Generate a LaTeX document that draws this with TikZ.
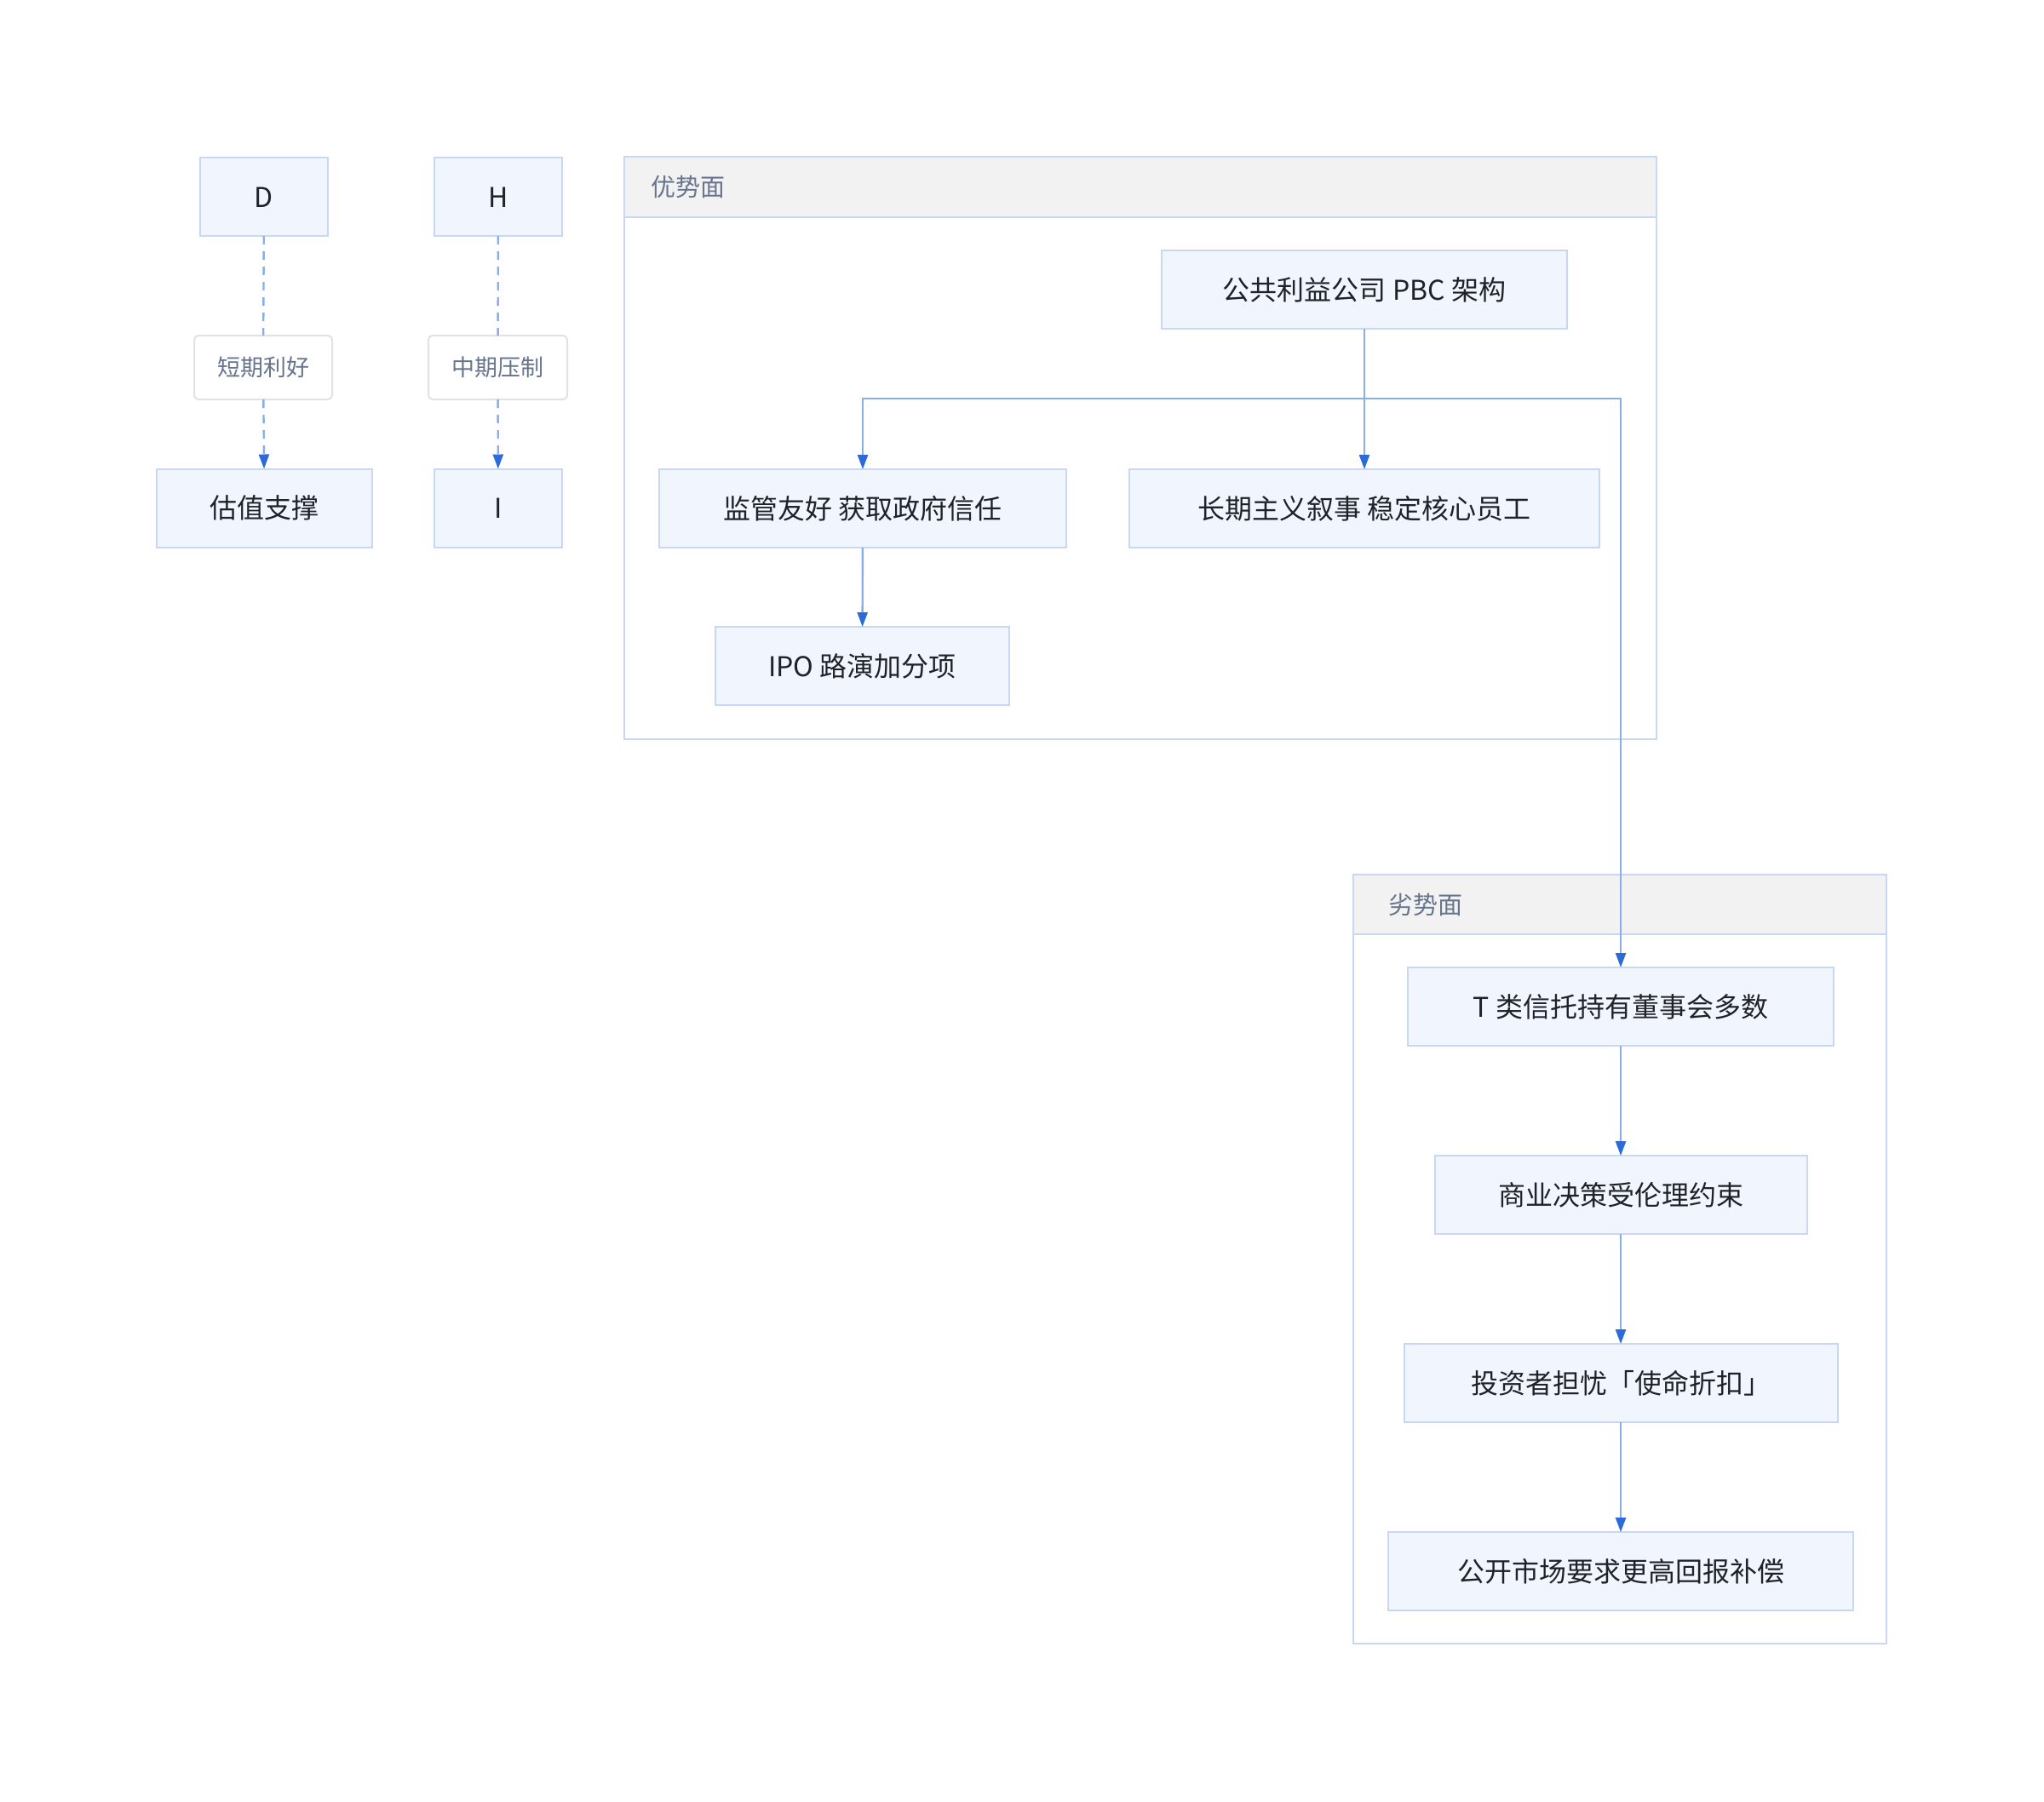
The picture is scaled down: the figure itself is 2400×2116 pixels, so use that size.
\documentclass[tikz,border=0pt]{standalone}
\usepackage{fontspec}
\setmainfont{Noto Sans CJK SC}
\usetikzlibrary{
    arrows.meta,
    positioning
}
\definecolor{boxfill}{RGB}{240,245,254}
\definecolor{boxline}{RGB}{200,215,242}
\definecolor{edgeline}{RGB}{138,173,236}
\definecolor{edgehead}{RGB}{45,106,217}
\definecolor{headfill}{RGB}{242,242,242}
\definecolor{maintext}{RGB}{31,35,41}
\definecolor{softtext}{RGB}{103,117,140}
\definecolor{labelline}{RGB}{226,226,226}
\tikzset {
    node box/.style = {
        draw = boxline, fill = boxfill, line width = 1pt,
        minimum height = 46pt, inner sep = 0pt, outer sep = 0pt,
        text = maintext, font = \fontsize{16pt}{18pt}\selectfont,
        text height = 14pt, text depth = 2pt
    },
    edge label box/.style = {
        draw = labelline, fill = white, line width = 1pt,
        rounded corners = 2.5pt,
        minimum height = 37.5pt, inner sep = 0pt, outer sep = 0pt,
        text = softtext, font = \fontsize{13.5pt}{16pt}\selectfont,
        text height = 12pt, text depth = 1.75pt
    },
    cluster frame/.style = {draw = boxline, fill = white, line width = 1pt},
    cluster head/.style = {draw = boxline, fill = headfill, line width = 1pt},
    cluster title/.style = {
        anchor = west, inner sep = 0pt, text = softtext,
        font = \fontsize{14.5pt}{17pt}\selectfont,
        text height = 13pt, text depth = 2pt
    },
    solid edge/.style = {
        draw = edgeline, line width = 1.2pt,
        -{Triangle[width = 6pt, length = 8.5pt, color = edgehead]}
    },
    dashed edge/.style = {
        solid edge, dash pattern = on 5pt off 4pt
    },
    plain dashed/.style = {
        draw = edgeline, line width = 1.2pt, dash pattern = on 5pt off 4pt
    }
}

\begin{document}
\begin{tikzpicture}[x = 0.5pt, y = -0.5pt]
    \useasboundingbox (0, 0) rectangle (2400, 2116);
    % clusters
    \draw [cluster frame] (733, 184) rectangle (1945, 868);
    \draw [cluster head] (733, 184) rectangle (1945, 255);
    \node (prosTitle) [cluster title] at (764, 219.5) {优势面};
    \draw [cluster frame] (1589, 1027) rectangle (2215, 1930);
    \draw [cluster head] (1589, 1027) rectangle (2215, 1097);
    \node (consTitle) [cluster title] at (1630, 1062) {劣势面};
    % left chains
    \node (d) [node box, minimum width = 75pt] at (310, 231) {D};
    \node (h) [node box, minimum width = 75pt] at (585, 231) {H};
    \node (shortGain) [edge label box, minimum width = 81pt] at (309, 431.5) {短期利好};
    \node (midDrag) [edge label box, minimum width = 81.5pt] at (584.5, 431.5) {中期压制};
    \node (valuation) [node box, minimum width = 126.5pt] at (310.5, 596.5) {估值支撑};
    \node (i) [node box, minimum width = 75pt] at (585, 596.5) {I};
    \draw [plain dashed] (d) -- (shortGain);
    \draw [dashed edge] (shortGain) -- (valuation);
    \draw [plain dashed] (h) -- (midDrag);
    \draw [dashed edge] (midDrag) -- (i);
    % pros
    \node (pbc) [node box, minimum width = 238pt] at (1602, 340) {公共利益公司 PBC 架构};
    \node (regulator) [node box, minimum width = 239pt] at (1013, 597) {监管友好 获取政府信任};
    \node (longterm) [node box, minimum width = 276pt] at (1602, 597) {长期主义叙事 稳定核心员工};
    \node (ipo) [node box, minimum width = 172.5pt] at (1012.5, 782) {IPO 路演加分项};
    % cons
    \node (trust) [node box, minimum width = 250pt] at (1903, 1182) {T 类信托持有董事会多数};
    \node (ethics) [node box, minimum width = 218.5pt] at (1903, 1403) {商业决策受伦理约束};
    \node (discount) [node box, minimum width = 254.5pt] at (1903, 1624) {投资者担忧「使命折扣」};
    \node (premium) [node box, minimum width = 273pt] at (1903, 1845) {公开市场要求更高回报补偿};
    % edges
    \coordinate (fork) at (1602, 468);
    \draw [solid edge] (pbc.south) -- (fork) -| (regulator.north);
    \draw [solid edge] (pbc) -- (longterm);
    \draw [solid edge] (pbc.south) -- (fork) -| (trust.north);
    \draw [solid edge] (regulator) -- (ipo);
    \draw [solid edge] (trust) -- (ethics);
    \draw [solid edge] (ethics) -- (discount);
    \draw [solid edge] (discount) -- (premium);
\end{tikzpicture}
\end{document}
